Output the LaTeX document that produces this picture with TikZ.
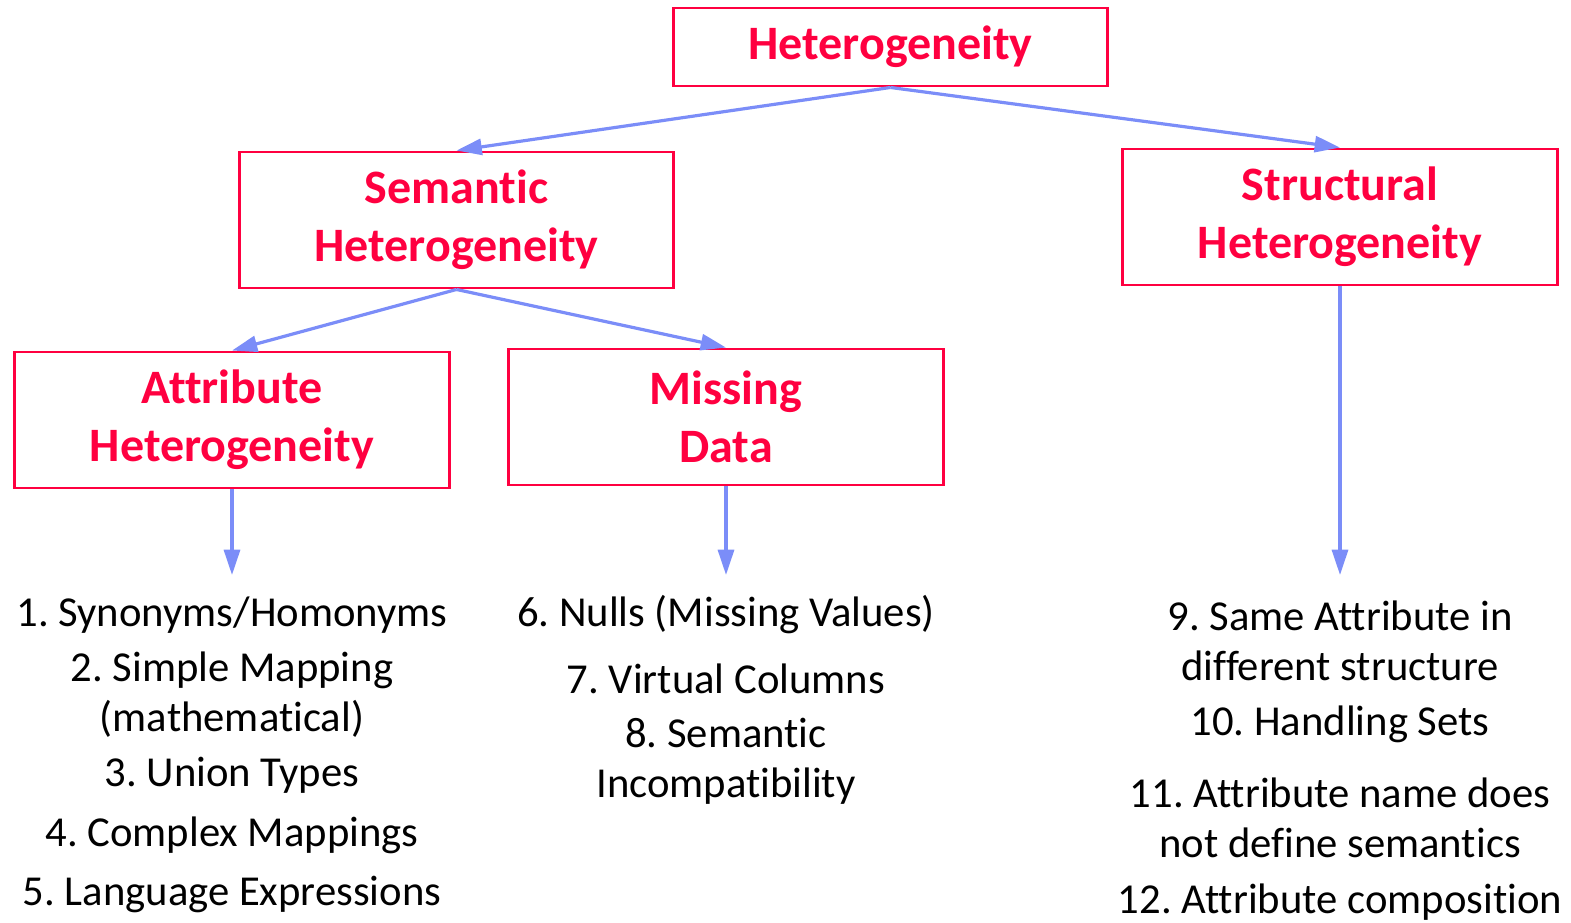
\documentclass[tikz,border=0pt]{standalone}
\usepackage{fontspec}
\setmainfont{Carlito}[Ligatures=NoCommon]
\usetikzlibrary{arrows.meta}
\definecolor{hetred}{HTML}{FF0040}
\definecolor{linkblue}{HTML}{7B8DF8}
\frenchspacing
\tikzset{
  topic/.style={draw=hetred, line width=2.2pt, text=hetred, font=\fontsize{36}{43.5}\selectfont\bfseries, align=center, minimum width=326pt, minimum height=102pt, inner sep=0pt},
  link/.style={draw=linkblue, line width=2.4pt, -{Triangle[length=19pt,width=12pt]}},
  item/.style={font=\fontsize{32}{37.5}\selectfont, align=center, inner sep=0pt}
}
\begin{document}
\begin{tikzpicture}[x=0.75pt,y=-0.75pt]
\useasboundingbox (0,0) rectangle (1571,922);

\node [topic, minimum height=58.5pt](het) at (890.5,47) {Heterogeneity};
\node [topic](sem) at (456.5,220) {Semantic\\Heterogeneity};
\node [topic](struc) at (1340,217) {Structural\\Heterogeneity};
\node [topic](attr) at (232,420) {Attribute\\Heterogeneity};
\node [topic](miss) at (726,417) {Missing\\Data};

\coordinate (attrend) at (232,575);
\coordinate (missend) at (726,575);
\coordinate (strucend) at (1340,575);

\draw [link] (het.south) -- (sem.north);
\draw [link] (het.south) -- (struc.north);
\draw [link] (sem.south) -- (attr.north);
\draw [link] (sem.south) -- (miss.north);
\draw [link] (attr.south) -- (attrend);
\draw [link] (miss.south) -- (missend);
\draw [link] (struc.south) -- (strucend);

% attribute heterogeneity
\node [item](a1) at (232,615) {1. Synonyms/Homonyms};
\node [item](a2) at (232,695) {2. Simple Mapping\\(mathematical)};
\node [item](a3) at (232,775) {3. Union Types};
\node [item](a4) at (232,835) {4. Complex Mappings};
\node [item](a5) at (232,894) {5. Language Expressions};
% missing data
\node [item](m6) at (726,615) {6. Nulls (Missing Values)};
\node [item](m7) at (726,679) {7. Virtual Columns};
\node [item](m8) at (726,761) {8. Semantic\\Incompatibility};
% structural heterogeneity
\node [item](s9) at (1340,640.5) {9. Same Attribute in\\different structure};
\node [item](s10) at (1340,724) {10. Handling Sets};
\node [item](s11) at (1340,817.5) {11. Attribute name does\\not define semantics};
\node [item](s12) at (1340,902) {12. Attribute composition};
\end{tikzpicture}
\end{document}
